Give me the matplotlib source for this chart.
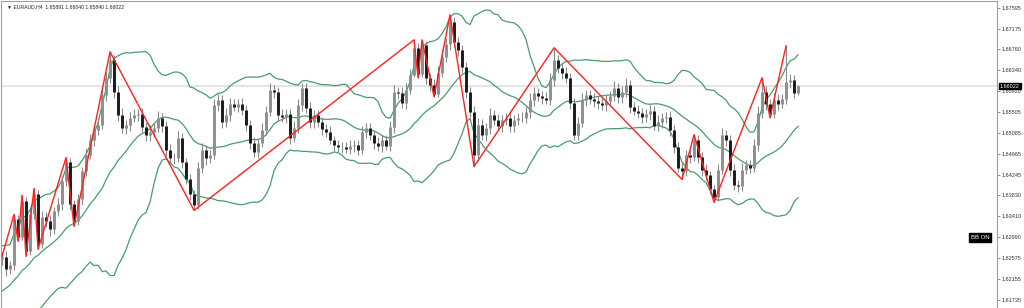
import matplotlib
matplotlib.use("Agg")
import matplotlib.pyplot as plt
import numpy as np
import pandas as pd

# EURAUD H4 - closes of the bars just before the visible window (only seed the bands)
pre_closes = [1.6115, 1.6125, 1.6131, 1.6139, 1.6145, 1.6155, 1.6165, 1.6175, 1.6179, 1.6185,
              1.6195, 1.6205, 1.6211, 1.6219, 1.6231, 1.6239, 1.6245, 1.6251, 1.6255]

# visible bars, left to right
closes = [1.6259, 1.6235, 1.6243, 1.6335, 1.6299, 1.6371, 1.6271, 1.6345, 1.6385, 1.6285,
          1.6339, 1.6331, 1.6315, 1.6351, 1.6365, 1.6411, 1.6451, 1.6365, 1.6331, 1.6375,
          1.6431, 1.6465, 1.6495, 1.6515, 1.6525, 1.6585, 1.6619, 1.6655, 1.6591, 1.6545,
          1.6519, 1.6525, 1.6539, 1.6545, 1.6547, 1.6521, 1.6505, 1.6511, 1.6519, 1.6539,
          1.6523, 1.6475, 1.6459, 1.6459, 1.6499, 1.6451, 1.6415, 1.6385, 1.6363, 1.6439,
          1.6475, 1.6459, 1.6465, 1.6565, 1.6575, 1.6531, 1.6545, 1.6567, 1.6561, 1.6567,
          1.6555, 1.6525, 1.6489, 1.6471, 1.6489, 1.6515, 1.6551, 1.6595, 1.6591, 1.6545,
          1.6541, 1.6547, 1.6499, 1.6519, 1.6565, 1.6599, 1.6559, 1.6531, 1.6545, 1.6531,
          1.6517, 1.6511, 1.6495, 1.6485, 1.6481, 1.6481, 1.6477, 1.6483, 1.6485, 1.6475,
          1.6511, 1.6519, 1.6505, 1.6489, 1.6483, 1.6495, 1.6483, 1.6521, 1.6591, 1.6589,
          1.6569, 1.6595, 1.6625, 1.6679, 1.6627, 1.6685, 1.6619, 1.6605, 1.6587, 1.6629,
          1.6661, 1.6687, 1.6731, 1.6691, 1.6675, 1.6641, 1.6591, 1.6551, 1.6465, 1.6525,
          1.6505, 1.6519, 1.6545, 1.6535, 1.6523, 1.6535, 1.6539, 1.6523, 1.6535, 1.6539,
          1.6539, 1.6551, 1.6575, 1.6589, 1.6583, 1.6579, 1.6575, 1.6615, 1.6655, 1.6639,
          1.6629, 1.6619, 1.6569, 1.6505, 1.6529, 1.6575, 1.6585, 1.6577, 1.6573, 1.6569,
          1.6565, 1.6573, 1.6583, 1.6599, 1.6581, 1.6591, 1.6605, 1.6561, 1.6553, 1.6549,
          1.6541, 1.6547, 1.6553, 1.6523, 1.6531, 1.6539, 1.6541, 1.6515, 1.6481, 1.6439,
          1.6431, 1.6465, 1.6461, 1.6495, 1.6461, 1.6435, 1.6423, 1.6395, 1.6379, 1.6435,
          1.6505, 1.6495, 1.6435, 1.6403, 1.6401, 1.6435, 1.6445, 1.6439, 1.6485, 1.6549,
          1.6591, 1.6567, 1.6547, 1.6575, 1.6567, 1.6577, 1.6611, 1.6615, 1.6589, 1.66022]

# shadows above / below the body, in pips
up_wick = [10, 12, 9, 10, 9, 12, 9, 10, 12, 8,
           12, 10, 13, 9, 12, 10, 8, 7, 8, 11,
           10, 13, 11, 9, 14, 11, 12, 16, 10, 12,
           14, 9, 11, 12, 10, 12, 9, 13, 10, 14,
           10, 9, 12, 10, 13, 9, 8, 10, 9, 11,
           13, 10, 9, 12, 11, 10, 13, 11, 10, 9,
           11, 10, 9, 12, 10, 13, 11, 14, 10, 9,
           12, 10, 9, 13, 11, 10, 9, 12, 10, 9,
           10, 9, 12, 8, 10, 9, 10, 12, 9, 10,
           12, 10, 9, 10, 12, 9, 10, 12, 13, 10,
           12, 13, 12, 16, 10, 10, 8, 9, 12, 13,
           14, 12, 14, 10, 10, 9, 10, 9, 12, 13,
           12, 10, 13, 9, 12, 10, 9, 12, 10, 9,
           12, 10, 13, 12, 9, 10, 12, 14, 24, 10,
           10, 12, 9, 10, 12, 13, 10, 9, 12, 10,
           9, 12, 10, 13, 10, 12, 14, 9, 10, 12,
           10, 9, 12, 10, 13, 9, 10, 12, 9, 10,
           12, 10, 9, 10, 10, 9, 12, 10, 9, 12,
           14, 10, 9, 12, 10, 13, 10, 9, 12, 13,
           28, 12, 10, 13, 12, 10, 72, 12, 10, 2]
down_wick = [12, 14, 10, 9, 8, 6, 10, 8, 9, 10,
             8, 12, 13, 10, 9, 12, 10, 11, 10, 8,
             12, 10, 9, 12, 10, 9, 12, 10, 13, 12,
             10, 13, 12, 9, 12, 10, 13, 12, 10, 9,
             12, 13, 10, 12, 9, 12, 10, 11, 10, 8,
             12, 14, 10, 9, 12, 13, 10, 12, 9, 10,
             10, 12, 13, 10, 12, 9, 10, 9, 12, 13,
             10, 12, 13, 9, 10, 12, 10, 13, 12, 10,
             12, 10, 9, 12, 10, 13, 9, 10, 12, 10,
             9, 12, 10, 13, 10, 12, 9, 10, 12, 13,
             10, 12, 9, 5, 8, 6, 12, 13, 6, 6,
             9, 10, 12, 10, 12, 13, 12, 10, 24, 12,
             10, 13, 12, 10, 9, 12, 10, 13, 12, 10,
             9, 10, 12, 13, 10, 12, 9, 10, 12, 10,
             12, 10, 13, 10, 10, 9, 12, 10, 13, 12,
             10, 12, 9, 10, 12, 13, 10, 12, 9, 10,
             12, 10, 13, 9, 10, 12, 10, 13, 12, 10,
             16, 10, 12, 9, 12, 13, 10, 10, 10, 8,
             9, 12, 13, 10, 12, 10, 9, 12, 10, 12,
             10, 12, 8, 8, 12, 9, 10, 12, 10, 5]

# ZigZag turning points (bar index, price)
zz_idx = [0, 3, 4, 5, 6, 8, 9, 16, 18, 27, 48, 103, 104, 105, 108, 112, 118, 138, 170, 173, 178, 190, 192, 196]
zz_price = [1.6261, 1.6345, 1.6291, 1.6383, 1.6261, 1.6397, 1.6275, 1.6459, 1.6321, 1.6671, 1.6353, 1.6695,
            1.6619, 1.6695, 1.6581, 1.6745, 1.6441, 1.6679, 1.6415, 1.6505, 1.6369, 1.6619, 1.6539, 1.6683]

tick_prices = [1.67595, 1.67175, 1.66760, 1.66340, 1.65920, 1.65505, 1.65085, 1.64665,
               1.64245, 1.63830, 1.63410, 1.62990, 1.62575, 1.62155, 1.61735]
last_price = 1.66022
header = "\u25bc EURAUD,H4  1.65891 1.66040 1.65840 1.66022"

# small terminal-like font
plt.rcParams['font.family'] = ['Liberation Sans', 'DejaVu Sans']

# build OHLC
n = len(closes)
x = np.arange(n)
c = np.array(closes)
o = np.concatenate([[pre_closes[-1]], c[:-1]])
o[-1] = 1.65891
hi = np.maximum(o, c) + np.array(up_wick) * 0.0001
lo = np.minimum(o, c) - np.array(down_wick) * 0.0001

# Bollinger bands 20, 2
full = pd.Series(pre_closes + closes)
mid = full.rolling(20).mean()
sd = full.rolling(20).std(ddof=0)
bx = np.arange(-len(pre_closes), n)

fig = plt.figure(figsize=(10.24, 3.08), dpi=100)
ax = fig.add_axes([0.001, 0.0, 0.9727, 0.997])

band_col = "#4a9c6c"
ax.plot(bx, mid, color=band_col, lw=0.9)
ax.plot(bx, mid + 2 * sd, color=band_col, lw=0.9)
ax.plot(bx, mid - 2 * sd, color=band_col, lw=0.9)

# current price line
ax.axhline(last_price, color="#e4e4e4", lw=1.4, zorder=0)

# candles
ax.vlines(x, lo, hi, color="#8a8a8a", lw=0.8, zorder=2)
bull = c >= o
ax.vlines(x[bull], o[bull], c[bull], color="#8f8f8f", lw=2.1, zorder=3)
ax.vlines(x[~bull], c[~bull], o[~bull], color="#1a1a1a", lw=2.1, zorder=3)

# zigzag
ax.plot(zz_idx, zz_price, color="#ff2020", lw=1.0, zorder=4)

ax.set_xlim(-0.25, 248.75)
ax.set_ylim(1.61574, 1.67729)
ax.set_xticks([])
ax.yaxis.tick_right()
ax.set_yticks(tick_prices)
ax.set_yticklabels([f"{p:.5f}" for p in tick_prices])
ax.tick_params(axis="y", length=2, width=0.5, color="#666666", labelsize=4,
               labelcolor="#333333", pad=1.5)
for side in ["left", "top", "right"]:
    ax.spines[side].set_color("#a0a0a0")
    ax.spines[side].set_linewidth(0.8)
ax.spines["bottom"].set_visible(False)

ax.text(0.006, 0.99, header, transform=ax.transAxes, ha="left", va="top",
        fontsize=3.7, color="#222222")

ax.text(1.003, last_price, f"{last_price:.5f}", transform=ax.get_yaxis_transform(),
        ha="left", va="center", fontsize=4, color="white", clip_on=False,
        bbox=dict(boxstyle="square,pad=0.15", fc="black", ec="black"))
ax.text(0.983, 1.62990, "BB ON", transform=ax.get_yaxis_transform(),
        ha="center", va="center", fontsize=4.3, color="white",
        bbox=dict(boxstyle="square,pad=0.3", fc="black", ec="black"))

fig.savefig("out.png", dpi=100)
